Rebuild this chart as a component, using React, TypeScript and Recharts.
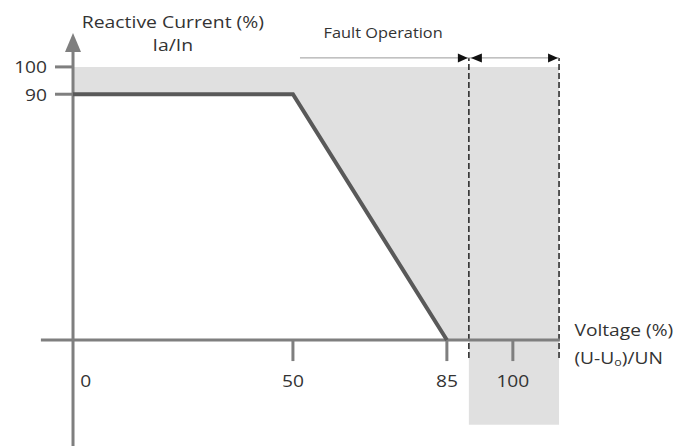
import {
  ComposedChart,
  Area,
  Line,
  XAxis,
  YAxis,
  ReferenceLine,
  ReferenceArea,
  ReferenceDot
} from "recharts";

// Reactive current characteristic (voltage % -> Ia/In %)
const curveVoltage = [0, 50, 85];
const curveCurrent = [90, 90, 0];

// Fault operation envelope (shaded above the curve up to 100 %)
const faultVoltage = [0, 50, 85, 90];
const faultLower = [90, 90, 0, 0];
const faultUpper = [100, 100, 100, 100];

// Normal band around 100 % voltage
const normalVoltage = [90, 110.5];
const normalCurrent = [-31, 100];

const xTicks = [0, 50, 85, 100];
const yTicks = [90, 100];

const xDomain = [-16.6, 140.5];
const yDomain = [-38.8, 124.5];

const W = 691;
const H = 446;
const AXIS = "#7f7f7f";
const FILL = "#e0e0e0";
const INK = "#333333";
const FONT = "'Open Sans', sans-serif";

const curveData = curveVoltage.map((v, i) => ({ v, current: curveCurrent[i] }));
const faultData = faultVoltage.map((v, i) => ({ v, range: [faultLower[i], faultUpper[i]] }));

type DotProps = { cx?: number; cy?: number };

// text is a little wider than Open Sans in the original, so stretch it horizontally
const textShape =
  (label: React.ReactNode, anchor: "start" | "middle" | "end", size: number, stretch = 1.13) =>
  (p: DotProps) => (
    <g transform={`translate(${p.cx},${p.cy}) scale(${stretch},1)`}>
      <text
        x={0}
        y={0}
        textAnchor={anchor}
        dominantBaseline="central"
        fontFamily={FONT}
        fontSize={size}
        fill={INK}
      >
        {label}
      </text>
    </g>
  );

const arrowUp = (p: DotProps) => {
  const cx = p.cx ?? 0;
  const cy = p.cy ?? 0;
  return <polygon points={`${cx - 8},${cy} ${cx + 8},${cy} ${cx},${cy - 19}`} fill={AXIS} />;
};

const arrowRight = (p: DotProps) => {
  const cx = p.cx ?? 0;
  const cy = p.cy ?? 0;
  return <polygon points={`${cx - 11},${cy - 4.5} ${cx - 11},${cy + 4.5} ${cx - 1},${cy}`} fill="#111" />;
};

const arrowLeft = (p: DotProps) => {
  const cx = p.cx ?? 0;
  const cy = p.cy ?? 0;
  return <polygon points={`${cx + 13},${cy - 4.5} ${cx + 13},${cy + 4.5} ${cx + 2},${cy}`} fill="#111" />;
};

export default function App() {
  return (
    <div style={{ width: W, height: H, background: "#fff" }}>
      <style>{"body{margin:0}"}</style>
      <ComposedChart width={W} height={H} margin={{ top: 0, right: 0, bottom: 0, left: 0 }}>
        <XAxis type="number" dataKey="v" domain={xDomain} hide allowDataOverflow />
        <YAxis type="number" domain={yDomain} hide allowDataOverflow />

        {/* shaded fault region */}
        <Area
          data={faultData}
          dataKey="range"
          type="linear"
          stroke="none"
          fill={FILL}
          fillOpacity={1}
          dot={false}
          activeDot={false}
          isAnimationActive={false}
        />
        <ReferenceArea
          x1={normalVoltage[0]}
          x2={normalVoltage[1]}
          y1={normalCurrent[0]}
          y2={normalCurrent[1]}
          fill={FILL}
          fillOpacity={1}
          stroke="none"
        />

        {/* dashed band limits */}
        {normalVoltage.map((x) => (
          <ReferenceLine
            key={`d${x}`}
            segment={[{ x, y: -6.6 }, { x, y: 103.3 }]}
            stroke="#222"
            strokeWidth={1.5}
            strokeDasharray="6 3"
          />
        ))}

        {/* axes */}
        <ReferenceLine segment={[{ x: -7.3, y: 0 }, { x: 110.7, y: 0 }]} stroke={AXIS} strokeWidth={3} />
        <ReferenceLine segment={[{ x: 0, y: -38.8 }, { x: 0, y: 105.5 }]} stroke={AXIS} strokeWidth={3} />
        <ReferenceDot x={0} y={105.5} r={0} shape={arrowUp} />

        {yTicks.map((t) => (
          <ReferenceLine key={`yt${t}`} segment={[{ x: -4.1, y: t }, { x: 0, y: t }]} stroke={AXIS} strokeWidth={3} />
        ))}
        {xTicks.filter((t) => t !== 0).map((t) => (
          <ReferenceLine key={`xt${t}`} segment={[{ x: t, y: 0 }, { x: t, y: -7.7 }]} stroke={AXIS} strokeWidth={3} />
        ))}

        {/* characteristic curve */}
        <Line
          data={curveData}
          dataKey="current"
          type="linear"
          stroke="#595959"
          strokeWidth={4}
          dot={false}
          activeDot={false}
          isAnimationActive={false}
        />

        {/* fault operation arrows */}
        <ReferenceLine segment={[{ x: 51.6, y: 103.3 }, { x: 90, y: 103.3 }]} stroke="#9a9a9a" strokeWidth={1} />
        <ReferenceLine segment={[{ x: 90, y: 103.3 }, { x: 110.5, y: 103.3 }]} stroke="#9a9a9a" strokeWidth={1} />
        <ReferenceDot x={90} y={103.3} r={0} shape={arrowRight} />
        <ReferenceDot x={90} y={103.3} r={0} shape={arrowLeft} />
        <ReferenceDot x={110.5} y={103.3} r={0} shape={arrowRight} />

        {/* tick labels */}
        {yTicks.map((t) => (
          <ReferenceDot key={`yl${t}`} x={-5.9} y={t} r={0} shape={textShape(String(t), "end", 17)} />
        ))}
        {xTicks.map((t) => (
          <ReferenceDot
            key={`xl${t}`}
            x={t === 0 ? 2.9 : t}
            y={-14.8}
            r={0}
            shape={textShape(String(t), "middle", 17)}
          />
        ))}

        {/* titles */}
        <ReferenceDot x={22.7} y={116.8} r={0} shape={textShape("Reactive Current (%)", "middle", 17, 1.14)} />
        <ReferenceDot x={22.7} y={108.1} r={0} shape={textShape("Ia/In", "middle", 17, 1.14)} />
        <ReferenceDot x={70.5} y={112.8} r={0} shape={textShape("Fault Operation", "middle", 15, 1.09)} />
        <ReferenceDot x={114} y={3.8} r={0} shape={textShape("Voltage (%)", "start", 17)} />
        <ReferenceDot
          x={114}
          y={-6.5}
          r={0}
          shape={textShape(
            <>
              (U-U<tspan fontSize={11} dy={4}>o</tspan>
              <tspan dy={-4}>)/UN</tspan>
            </>,
            "start",
            17
          )}
        />
      </ComposedChart>
    </div>
  );
}
